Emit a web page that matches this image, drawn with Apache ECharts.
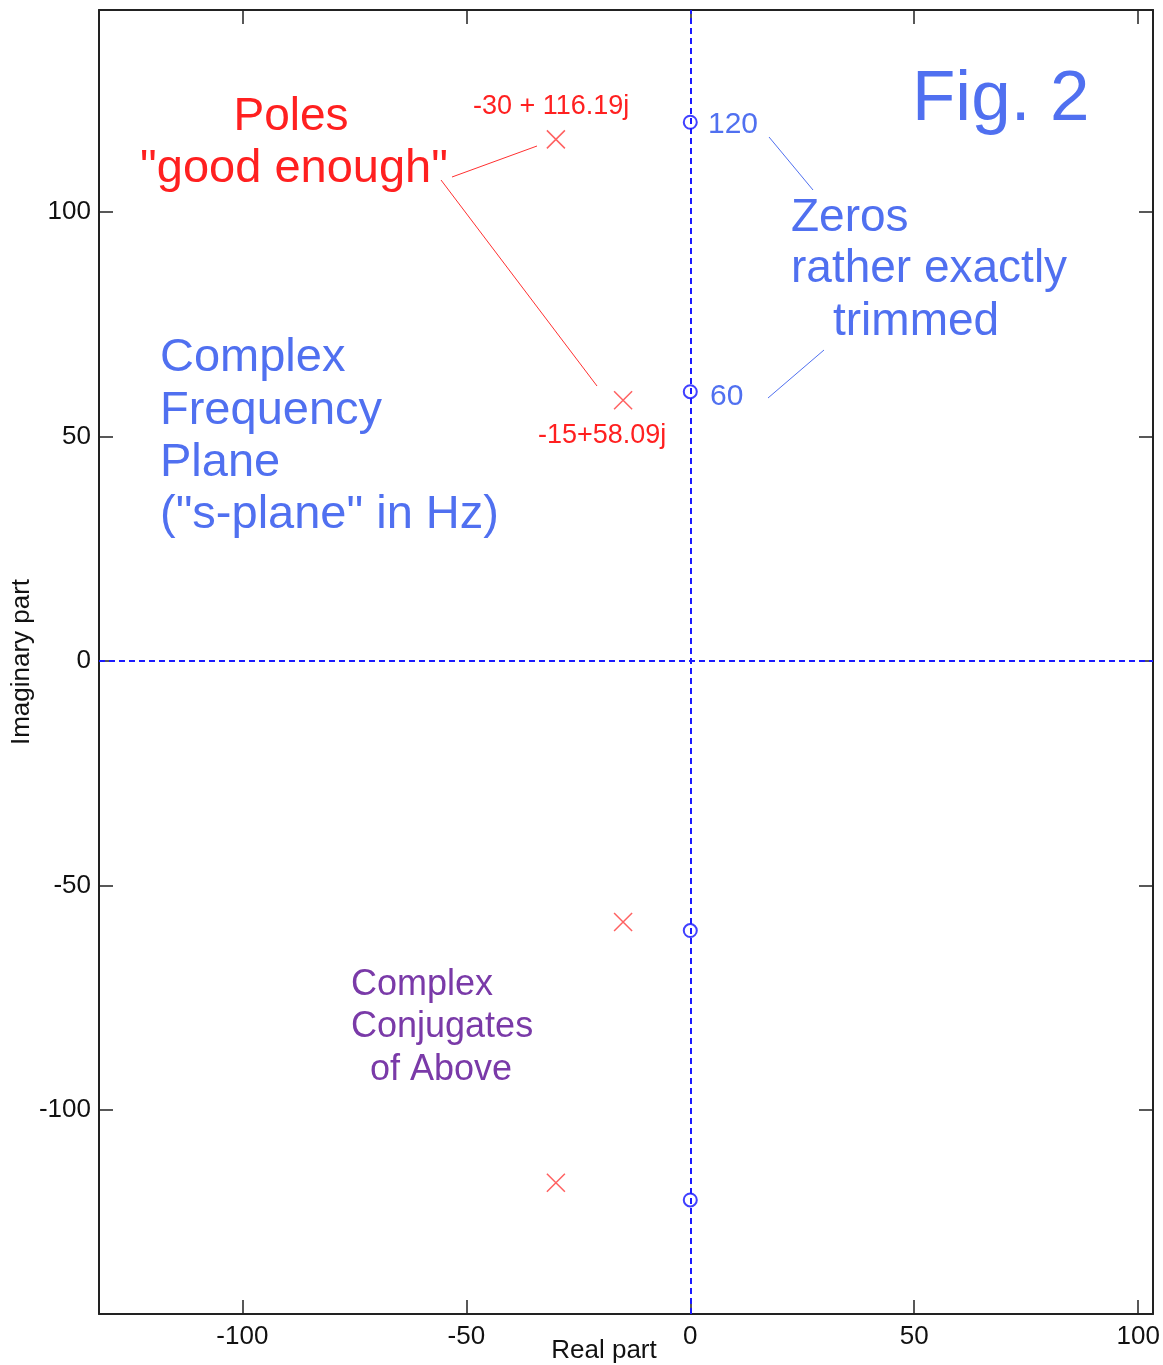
<!DOCTYPE html>
<html>
<head>
<meta charset="utf-8">
<script src="https://cdn.jsdelivr.net/npm/echarts@6/dist/echarts.min.js"></script>
<style>
html,body{margin:0;padding:0;background:#fff;}
#chart{width:1163px;height:1365px;}
</style>
</head>
<body>
<div id="chart"></div>
<script>
// ---- data ----
var poleRe = [-30, -15, -15, -30];
var poleIm = [116.19, 58.09, -58.09, -116.19];
var zeroRe = [0, 0, 0, 0];
var zeroIm = [120, 60, -60, -120];
var xTicks = [-100, -50, 0, 50, 100];
var yTicks = [-100, -50, 0, 50, 100];
var X_MIN = -132, X_MAX = 103.3;
var Y_MIN = -145.4, Y_MAX = 145;

var poleData = poleRe.map(function (v, i) { return [v, poleIm[i]]; });
var zeroData = zeroRe.map(function (v, i) { return [v, zeroIm[i]]; });

var BLUE_T = '#5070f0';
var RED_T = '#ff2020';
var PURPLE = '#7a3aa8';
var BIG = '46px "Liberation Sans", Arial, sans-serif';
var BIG2 = '47px "Liberation Sans", Arial, sans-serif';

function txt(text, x, y, font, fill, align) {
  return {
    type: 'text', x: x, y: y, z: 100, silent: true,
    style: { text: text, font: font, fill: fill,
      align: align || 'left', verticalAlign: 'middle',
      textAlign: align || 'left', textVerticalAlign: 'middle' }
  };
}
function ln(x1, y1, x2, y2, c) {
  return { type: 'line', z: 100, silent: true,
    shape: { x1: x1, y1: y1, x2: x2, y2: y2 },
    style: { stroke: c, lineWidth: 1 } };
}

var tickFont = { fontFamily: '"Liberation Sans Narrow", "Liberation Sans", Arial', fontSize: 26, color: '#111' };
var axLine = { show: true, onZero: false, lineStyle: { color: '#222', width: 2 } };
var tickStyle = { color: '#222', width: 1.5 };

var chart = echarts.init(document.getElementById('chart'), null, { renderer: 'canvas' });
chart.setOption({
  animation: false,
  backgroundColor: '#fff',
  grid: { left: 99, right: 10, top: 10, bottom: 51, containLabel: false, outerBoundsMode: 'none' },
  xAxis: [{
    type: 'value', min: X_MIN, max: X_MAX, position: 'bottom',
    axisLine: axLine, splitLine: { show: false },
    axisTick: { show: true, inside: true, length: 14, customValues: xTicks, lineStyle: tickStyle },
    axisLabel: Object.assign({ customValues: xTicks, margin: 10 }, tickFont),
    name: 'Real part', nameLocation: 'middle', nameGap: 24, nameMoveOverlap: false,
    nameTextStyle: { fontFamily: '"Liberation Sans Narrow", "Liberation Sans", Arial', fontSize: 26, color: '#111', padding: [0, 44, 0, 0] }
  }, {
    type: 'value', min: X_MIN, max: X_MAX, position: 'top',
    axisLine: axLine, splitLine: { show: false },
    axisTick: { show: true, inside: true, length: 14, customValues: xTicks, lineStyle: tickStyle },
    axisLabel: { show: false }
  }],
  yAxis: [{
    type: 'value', min: Y_MIN, max: Y_MAX, position: 'left',
    axisLine: axLine, splitLine: { show: false },
    axisTick: { show: true, inside: true, length: 14, customValues: yTicks, lineStyle: tickStyle },
    axisLabel: Object.assign({ customValues: yTicks, margin: 8 }, tickFont),
    name: 'Imaginary part', nameLocation: 'middle', nameGap: 64, nameRotate: 90, nameMoveOverlap: false,
    nameTextStyle: { fontFamily: '"Liberation Sans Narrow", "Liberation Sans", Arial', fontSize: 26, color: '#111' }
  }, {
    type: 'value', min: Y_MIN, max: Y_MAX, position: 'right',
    axisLine: axLine, splitLine: { show: false },
    axisTick: { show: true, inside: true, length: 14, customValues: yTicks, lineStyle: tickStyle },
    axisLabel: { show: false }
  }],
  series: [{
    type: 'scatter', data: [], z: 1, silent: true,
    markLine: {
      silent: true, symbol: ['none', 'none'], label: { show: false },
      lineStyle: { type: [6, 4], color: '#1a1aff', width: 2 },
      emphasis: { disabled: true },
      data: [{ xAxis: 0 }, { yAxis: 0 }]
    }
  }, {
    type: 'scatter', data: zeroData, z: 3, silent: true,
    symbol: 'circle', symbolSize: 13,
    itemStyle: { color: 'transparent', borderColor: '#1010ff', borderWidth: 2 }
  }, {
    type: 'scatter', data: poleData, z: 3, silent: true,
    symbol: 'path://M0,0L10,10M0,10L10,0', symbolSize: 18,
    itemStyle: { color: 'transparent', borderColor: '#ff3a3a', borderWidth: 1.5 }
  }],
  graphic: [
    txt('Poles', 291, 117, BIG, RED_T, 'center'),
    txt('"good enough"', 294, 169, BIG2, RED_T, 'center'),
    txt('-30 + 116.19j', 473, 107, '27px "Liberation Sans", Arial', RED_T),
    txt('-15+58.09j', 538, 436, '27px "Liberation Sans", Arial', RED_T),
    ln(452, 177, 537, 146, '#ff3030'),
    ln(441, 180, 597, 386, '#ff3030'),
    txt('120', 708, 125, '30px "Liberation Sans", Arial', BLUE_T),
    txt('60', 710, 397, '30px "Liberation Sans", Arial', BLUE_T),
    ln(769, 137, 813, 190, BLUE_T),
    ln(768, 398, 824, 350, BLUE_T),
    txt('Fig. 2', 912, 100, '71px "Liberation Sans", Arial', BLUE_T),
    txt('Zeros', 791, 218, BIG, BLUE_T),
    txt('rather exactly', 791, 269, BIG, BLUE_T),
    txt('trimmed', 833, 322, BIG, BLUE_T),
    txt('Complex', 160, 358, BIG2, BLUE_T),
    txt('Frequency', 160, 411, BIG2, BLUE_T),
    txt('Plane', 160, 463, BIG2, BLUE_T),
    txt('("s-plane" in Hz)', 160, 515, BIG2, BLUE_T),
    txt('Complex', 351, 985, '36px "Liberation Sans", Arial', PURPLE),
    txt('Conjugates', 351, 1027, '36px "Liberation Sans", Arial', PURPLE),
    txt('of Above', 370, 1070, '36px "Liberation Sans", Arial', PURPLE)
  ]
});
</script>
</body>
</html>
